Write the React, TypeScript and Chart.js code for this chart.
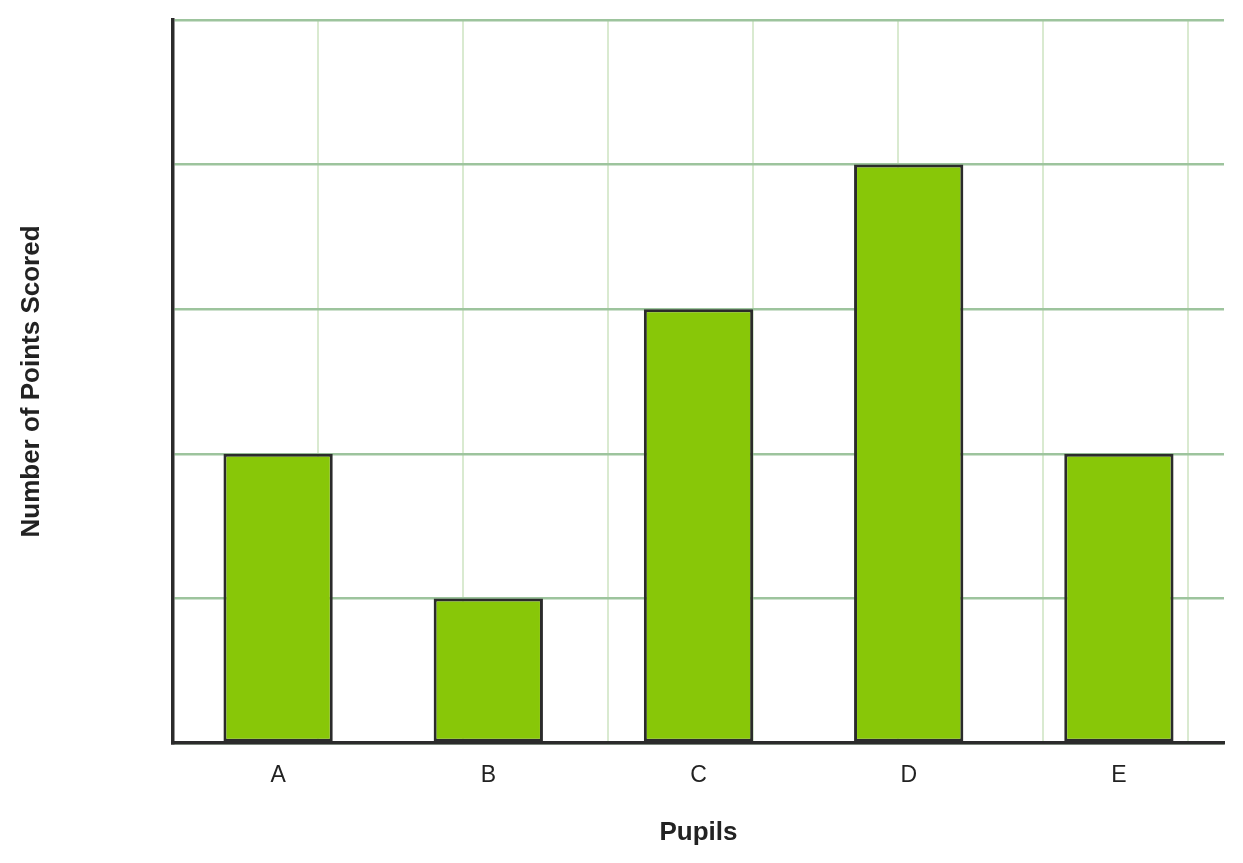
import { useEffect, useRef } from "react"
import { Chart, registerables } from "chart.js"

Chart.register(...registerables)

const pupils = ["A", "B", "C", "D", "E"]
const pointsScored = [2, 1, 3, 4, 2]
const yMax = 5
// vertical background grid steps (independent of the categories)
const gridSteps = [0, 1, 2, 3, 4, 5, 6, 7]
const gridMax = 7.25

const axisColor = "#2b2b2b"
const textColor = "#222222"
const fontFamily = "'Liberation Sans', Arial, sans-serif"

export default function App() {
    const chartRef = useRef<HTMLCanvasElement>(null)
    const chartInstance = useRef<Chart | null>(null)

    useEffect(() => {
        if (!chartRef.current) return
        const ctx = chartRef.current.getContext("2d")
        if (!ctx) return

        if (chartInstance.current) {
            chartInstance.current.destroy()
        }

        chartInstance.current = new Chart(ctx, {
            type: "bar",
            data: {
                labels: pupils,
                datasets: [
                    {
                        data: pointsScored,
                        backgroundColor: "#88c708",
                        borderColor: axisColor,
                        borderWidth: 3,
                        borderSkipped: false,
                        barPercentage: 0.52,
                        categoryPercentage: 1,
                        xAxisID: "x",
                    },
                ],
            },
            options: {
                responsive: true,
                maintainAspectRatio: false,
                animation: false,
                layout: {
                    padding: { left: 0, top: 20, right: 19, bottom: 0 },
                },
                plugins: {
                    legend: { display: false },
                    tooltip: { enabled: false },
                },
                scales: {
                    xg: {
                        type: "linear",
                        position: "top",
                        min: 0,
                        max: gridMax,
                        offset: false,
                        ticks: { display: false },
                        grid: { color: "#d9ead0", lineWidth: 2, drawTicks: false, offset: false },
                        border: { display: false },
                        afterBuildTicks: (scale: any) => {
                            scale.ticks = gridSteps.map((v) => ({ value: v }))
                        },
                        afterFit: (scale: any) => {
                            scale.height = 0
                        },
                    },
                    x: {
                        type: "category",
                        position: "bottom",
                        grid: { display: false, drawTicks: false },
                        border: { display: true, color: axisColor, width: 3.5, z: 2 },
                        ticks: {
                            padding: 19,
                            color: textColor,
                            font: { family: fontFamily, size: 23 },
                        },
                        title: {
                            display: true,
                            text: "Pupils",
                            color: textColor,
                            font: { family: fontFamily, size: 26, weight: "bold" },
                            padding: { top: 0, bottom: 15 },
                        },
                        afterFit: (scale: any) => {
                            scale.height = 120
                        },
                    },
                    y: {
                        min: 0,
                        max: yMax,
                        ticks: { display: false, stepSize: 1 },
                        grid: { color: "#9dc49d", lineWidth: 2.5, drawTicks: false },
                        border: { display: true, color: axisColor, width: 3.5, z: 2 },
                        title: {
                            display: true,
                            text: "Number of Points Scored",
                            color: textColor,
                            font: { family: fontFamily, size: 26, weight: "bold" },
                            padding: { top: 16, bottom: 0 },
                        },
                        afterFit: (scale: any) => {
                            scale.width = 173
                        },
                    },
                },
            },
        })

        return () => {
            if (chartInstance.current) {
                chartInstance.current.destroy()
                chartInstance.current = null
            }
        }
    }, [])

    return (
        <div style={{ position: "absolute", left: 0, top: 0, width: 1243, height: 863, background: "#ffffff" }}>
            <canvas ref={chartRef}></canvas>
        </div>
    )
}
